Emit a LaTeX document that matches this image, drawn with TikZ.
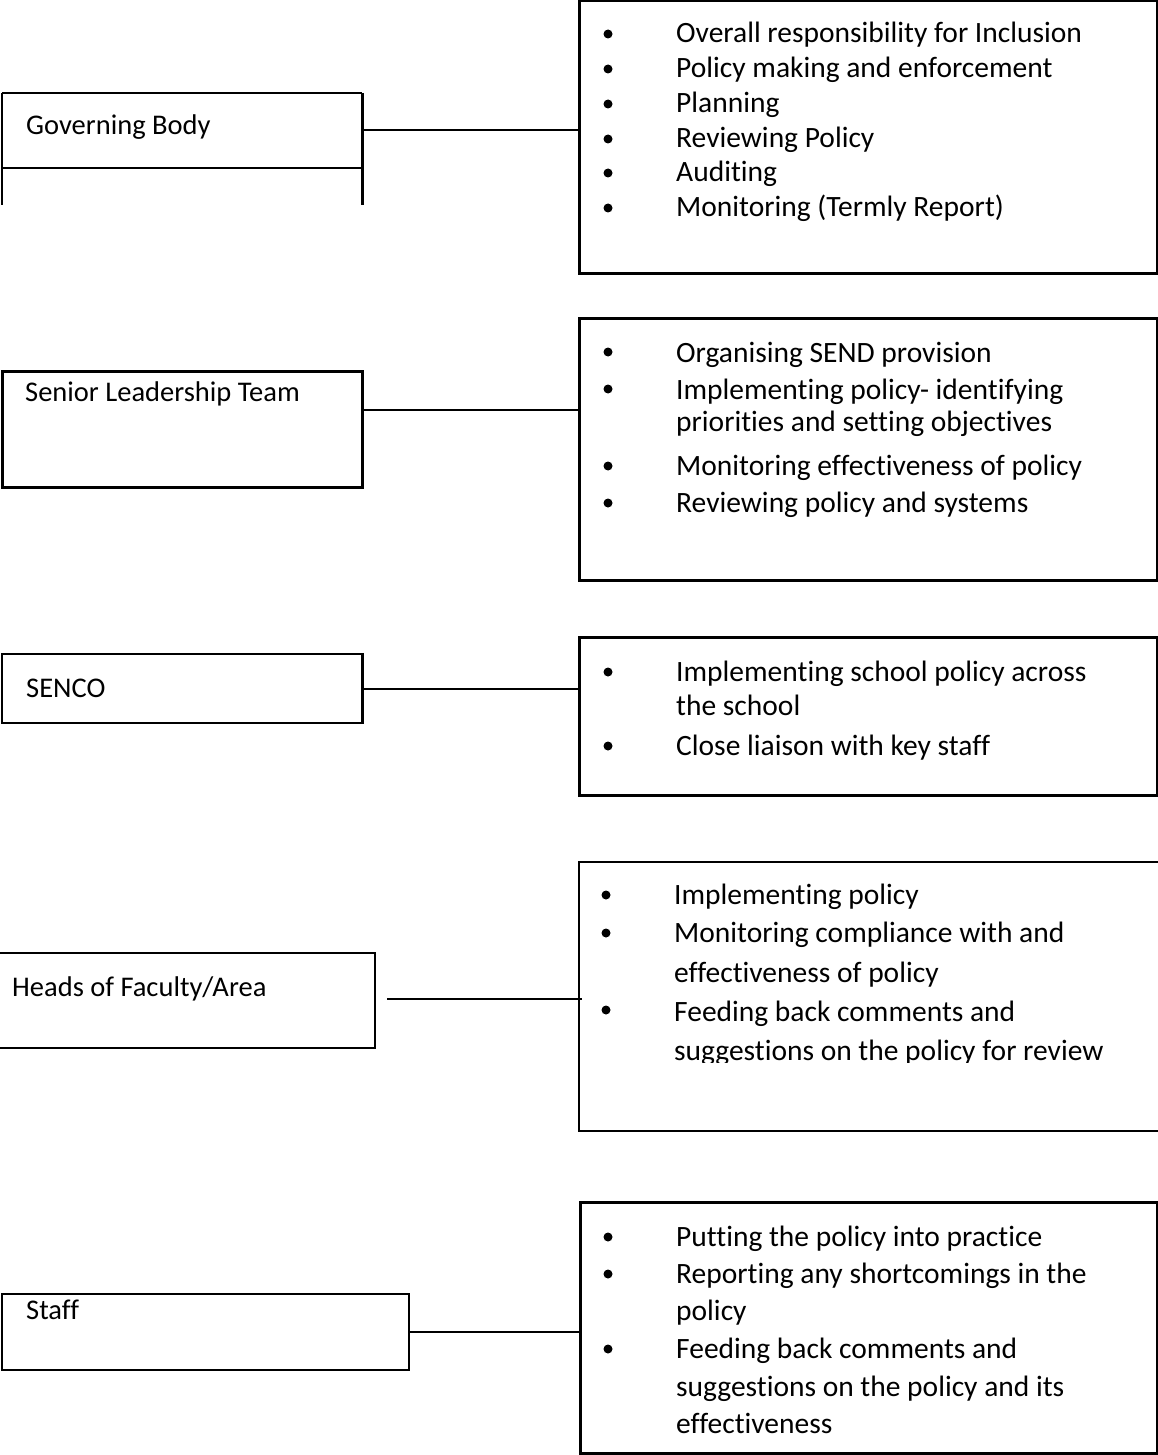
\documentclass[tikz,border=0pt]{standalone}
\usepackage{fontspec}
\setmainfont{Carlito}[Ligatures={NoCommon}]
\begin{document}
\begin{tikzpicture}[x=1pt,y=-1pt,
  txt/.style={anchor=base west, inner sep=0pt, font=\fontsize{29.5}{35}\selectfont},
  lbl/.style={anchor=base west, inner sep=0pt, font=\fontsize{28.5}{34}\selectfont},
  bul/.style={circle, fill=black, inner sep=0pt, minimum size=9pt},
  area/.style={rectangle, inner sep=0pt, draw=none},
  thick frame/.style={draw=black, line width=3pt},
  mid frame/.style={draw=black, line width=2.2pt},
  thin frame/.style={draw=black, line width=1.6pt},
  conn/.style={draw=black, line width=1.6pt}]
\useasboundingbox (0,0) rectangle (1158,1455);

% ---------- left boxes ----------
\node[area, minimum width=360pt, minimum height=75pt] (gb) at (182,130.5) {};
\draw[mid frame] (gb.north west) -- (gb.north east);
\draw[mid frame] (gb.south west) -- (gb.south east);
\draw[mid frame] (gb.north west) -- ([yshift=-37pt]gb.south west);
\draw[thick frame] (gb.north east) -- ([yshift=-37pt]gb.south east);
\node[lbl] (gbt) at (26,135) {Governing Body};

\node[area, thick frame, minimum width=360pt, minimum height=116pt] (slt) at (182,429) {};
\node[lbl] (sltt) at (25,401) {Senior Leadership Team};

\node[area, minimum width=360pt, minimum height=69pt] (senco) at (182,688.5) {};
\draw[mid frame] (senco.south east) -- (senco.south west) -- (senco.north west) -- (senco.north east);
\draw[thick frame] ([yshift=1pt]senco.north east) -- ([yshift=-1pt]senco.south east);
\node[lbl] (sencot) at (26,697) {SENCO};

\node[area, minimum width=375pt, minimum height=95pt] (hf) at (187.5,1000.5) {};
\draw[mid frame] (hf.north west) -- (hf.north east) -- (hf.south east) -- (hf.south west);
\node[lbl] (hft) at (12,996) {Heads of Faculty/Area};

\node[area, thin frame, minimum width=407pt, minimum height=76pt] (staff) at (205.5,1332) {};
\node[lbl] (stafft) at (26,1319) {Staff};

% ---------- right boxes ----------
\node[area, thick frame, minimum width=578pt, minimum height=272pt] (d1) at (868,137) {};
\node[area, thick frame, minimum width=578pt, minimum height=262pt] (d2) at (868,449) {};
\node[area, thick frame, minimum width=578pt, minimum height=158pt] (d3) at (868,716) {};
\node[area, minimum width=582pt, minimum height=269pt] (d4) at (870,996.5) {};
\draw[mid frame] (d4.north east) -- (d4.north west) -- (d4.south west) -- (d4.south east);
\node[area, thick frame, minimum width=577pt, minimum height=251pt] (d5) at (868.5,1327.5) {};

% ---------- connectors ----------
\draw[conn] (gb.east |- 0,130) -- (d1.west |- 0,130);
\draw[conn, line width=2.2pt] (slt.east |- 0,410) -- (d2.west |- 0,410);
\draw[conn] (senco.east |- 0,689) -- (d3.west |- 0,689);
\coordinate (hfc) at (387,999);
\draw[conn, line width=2.2pt] (hfc) -- ([xshift=3pt]d4.west |- hfc);
\draw[conn] (staff.east) -- (d5.west |- staff.east);

% ---------- box 1 text ----------
\foreach \y/\n in {34/a,69/b,104/c,139/d,173/e,208/f} \node[bul] (b1\n) at (608,\y) {};
\node[txt] (t1a) at (676,43) {Overall responsibility for Inclusion};
\node[txt] (t1b) at (676,78) {Policy making and enforcement};
\node[txt] (t1c) at (676,113) {Planning};
\node[txt] (t1d) at (676,148) {Reviewing Policy};
\node[txt] (t1e) at (676,182) {Auditing};
\node[txt] (t1f) at (676,217) {Monitoring (Termly Report)};

% ---------- box 2 text ----------
\foreach \y/\n in {352/a,389/b,466/c,503/d} \node[bul] (b2\n) at (608,\y) {};
\node[txt] (t2a) at (676,362) {Organising SEND provision};
\node[txt] (t2b) at (676,399) {Implementing policy- identifying};
\node[txt] (t2c) at (676,431) {priorities and setting objectives};
\node[txt] (t2d) at (676,475) {Monitoring effectiveness of policy};
\node[txt] (t2e) at (676,512) {Reviewing policy and systems};

% ---------- box 3 text ----------
\foreach \y/\n in {672/a,746/b} \node[bul] (b3\n) at (608,\y) {};
\node[txt] (t3a) at (676,681) {Implementing school policy across};
\node[txt] (t3b) at (676,715) {the school};
\node[txt] (t3c) at (676,755) {Close liaison with key staff};

% ---------- box 4 text ----------
\foreach \y/\n in {895/a,933/b,1010/c} \node[bul] (b4\n) at (606,\y) {};
\node[txt] (t4a) at (674,904) {Implementing policy};
\node[txt] (t4b) at (674,942) {Monitoring compliance with and};
\node[txt] (t4c) at (674,982) {effectiveness of policy};
\node[txt] (t4d) at (674,1021) {Feeding back comments and};
\begin{scope}
\clip (600,1030) rectangle (1150,1062);
\node[txt] (t4e) at (674,1060) {suggestions on the policy for review};
\end{scope}

% ---------- box 5 text ----------
\foreach \y/\n in {1237/a,1274/b,1349/c} \node[bul] (b5\n) at (608,\y) {};
\node[txt] (t5a) at (676,1246) {Putting the policy into practice};
\node[txt] (t5b) at (676,1283) {Reporting any shortcomings in the};
\node[txt] (t5c) at (676,1320) {policy};
\node[txt] (t5d) at (676,1358) {Feeding back comments and};
\node[txt] (t5e) at (676,1396) {suggestions on the policy and its};
\node[txt] (t5f) at (676,1433) {effectiveness};
\end{tikzpicture}
\end{document}
